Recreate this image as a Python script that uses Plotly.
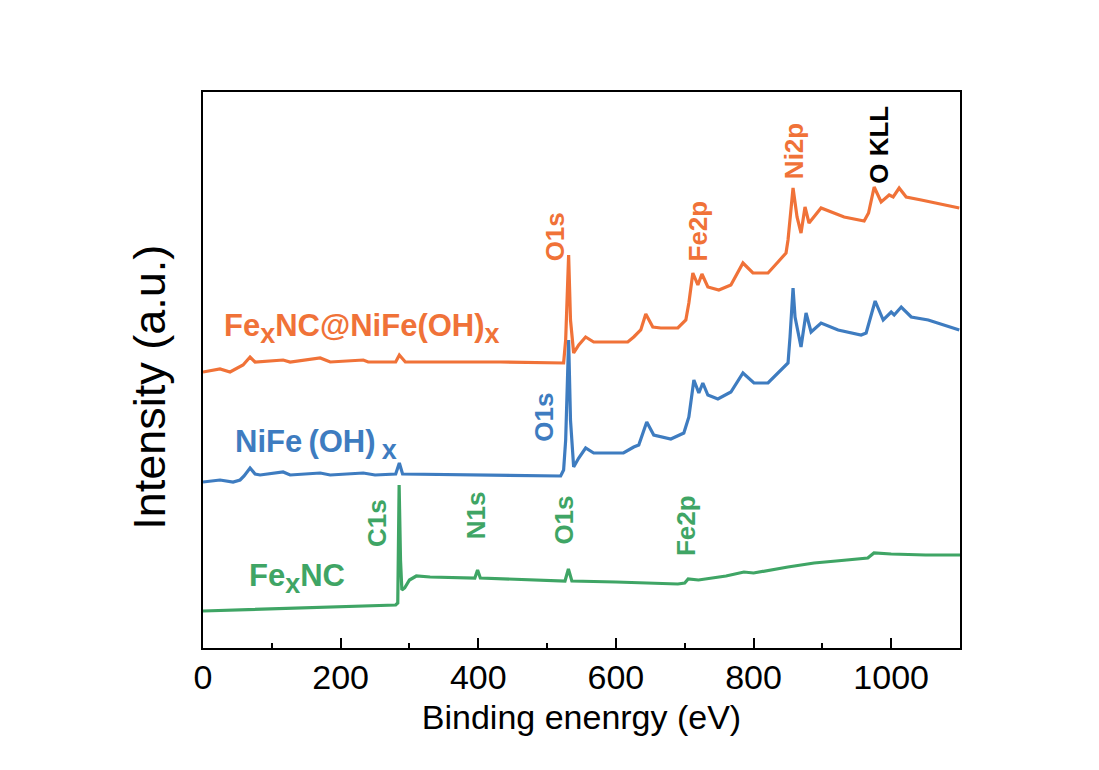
import plotly.graph_objects as go

# ---------------- data (binding energy in eV, intensity in a.u.) ----------------
energy_fenc_nife = [0, 24.7, 39.3, 58.2, 68.4, 75.7, 116.4, 126.6, 170.3, 184.9, 232.9, 240, 280,
                    285.3, 294, 432.3, 524, 527, 531.3, 534, 538.6, 546, 556, 567.7, 617.2, 625.9,
                    636.1, 643.4, 653.6, 665.2, 690, 701.6, 706, 711.8, 719.1, 725, 733.6, 749.6,
                    767.1, 784.6, 799.1, 821, 835.5, 847.2, 850.1, 857.4, 863.2, 869, 874.8, 880.6,
                    898.1, 931.6, 960.7, 967.1, 975.3, 985.4, 997.1, 1002.9, 1011.6, 1021.8, 1043.7, 1099]
intensity_fenc_nife = [276, 279, 276, 283, 291, 286, 288, 286, 290, 286, 288, 286, 286,
                       293, 286, 286, 285, 308, 393, 328, 295, 303, 311, 306, 306, 311,
                       318, 334, 321, 320, 320, 328, 345, 375, 363, 374, 361, 358,
                       363, 385, 375, 375, 386, 395, 408, 460, 431, 415, 441, 425,
                       440, 431, 427, 435, 461, 446, 453, 451, 460, 451, 448, 440]

energy_nife = [0, 24.7, 43.7, 53.9, 59.7, 68.4, 75.7, 83, 116.4, 126.6, 170.3, 184.9, 232.9, 250,
               280, 285.3, 290, 461, 519.7, 524, 527, 531.3, 534, 538.6, 546, 556, 567.7, 611,
               625.9, 633.2, 644.8, 655, 679.8, 698.7, 706, 713.3, 720.5, 726.3, 733.6, 748.2,
               767.1, 784.6, 800.6, 821, 835.5, 850.1, 853, 857.4, 860.3, 869, 876.3, 883.6,
               898.1, 922.9, 956.3, 963.6, 976.7, 988.4, 1000, 1004.4, 1014.6, 1029.1, 1053.9, 1099]
intensity_nife = [166, 168, 166, 168, 172, 180, 174, 173, 176, 173, 175, 173, 175, 173,
                  174, 185, 174, 173, 172, 178, 208, 308, 228, 181, 190, 200, 195, 195,
                  201, 203, 226, 213, 209, 215, 231, 268, 255, 265, 253, 249,
                  256, 275, 265, 265, 275, 285, 311, 360, 331, 301, 335, 316,
                  325, 318, 313, 315, 347, 328, 336, 333, 341, 331, 328, 318]

energy_fenc = [0, 100, 200, 280, 283, 285, 287, 289, 293, 300, 310, 330, 395, 399, 403, 450,
               526, 531, 536, 600, 690, 700, 705, 720, 760, 786, 800, 850, 888, 920, 966, 975,
               1000, 1050, 1100]
intensity_fenc = [37, 39, 41, 43, 45, 163, 88, 58, 60, 68, 72, 71, 70, 78, 70, 69,
                  67, 79, 67, 66, 64, 65, 69, 68, 72, 76, 75, 81, 85, 87, 90, 95,
                  94, 93, 93]

x_ticks = [0, 200, 400, 600, 800, 1000]

ORANGE = "#F07238"
BLUE = "#3E7CC0"
GREEN = "#3FA565"
FONT = "Liberation Sans, Arial, Helvetica, sans-serif"

SUBX = "<sub><span style='font-size:27px'>x</span></sub>"

# sample names (text, x, y, colour)
sample_labels = [
    ("Fe" + SUBX + "NC@NiFe(OH)" + SUBX, 27, 320, ORANGE),
    ("NiFe\u2009(OH)\u2009" + SUBX, 43, 204, BLUE),
    ("Fe" + SUBX + "NC", 64, 70, GREEN),
]
# peak labels (text, x, y, colour)
peak_labels = [
    ("O1s", 512, 411, ORANGE),
    ("Fe2p", 720, 417, ORANGE),
    ("Ni2p", 859, 497, ORANGE),
    ("O KLL", 982, 503, "#000000"),
    ("O1s", 495, 231, BLUE),
    ("C1s", 253, 125, GREEN),
    ("N1s", 397, 133, GREEN),
    ("O1s", 524, 128, GREEN),
    ("Fe2p", 702, 122, GREEN),
]

fig = go.Figure()
for xs, ys, col, name in [
    (energy_fenc, intensity_fenc, GREEN, "FexNC"),
    (energy_nife, intensity_nife, BLUE, "NiFe(OH)x"),
    (energy_fenc_nife, intensity_fenc_nife, ORANGE, "FexNC@NiFe(OH)x"),
]:
    fig.add_trace(go.Scatter(x=xs, y=ys, mode="lines", name=name,
                             line=dict(color=col, width=3.2), showlegend=False))

annotations = []
for text, x, y, col in sample_labels:
    annotations.append(dict(x=x, y=y, xref="x", yref="y", text=text, showarrow=False,
                            xanchor="left", yanchor="middle",
                            font=dict(family=FONT, size=31, color=col, weight="bold")))
for text, x, y, col in peak_labels:
    annotations.append(dict(x=x, y=y, xref="x", yref="y", text=text, showarrow=False,
                            textangle=-90, xanchor="center", yanchor="middle",
                            font=dict(family=FONT, size=26, color=col, weight="bold")))
# y-axis title (placed slightly below the plot's vertical centre, as in the reference)
annotations.append(dict(x=-0.07, y=0.468, xref="paper", yref="paper", text="Intensity (a.u.)",
                        showarrow=False, textangle=-90, xanchor="center", yanchor="middle",
                        font=dict(family=FONT, size=45, color="black")))

fig.update_layout(
    width=1099, height=770,
    margin=dict(l=203, r=139, t=92, b=122),
    paper_bgcolor="white", plot_bgcolor="white",
    font=dict(family=FONT, color="black"),
    annotations=annotations,
    xaxis=dict(range=[0, 1100], tickvals=x_ticks, ticks="inside", ticklen=10, tickwidth=2,
               tickcolor="black", showline=True, linecolor="black", linewidth=2, mirror=True,
               showgrid=False, zeroline=False, tickfont=dict(size=34, family=FONT),
               ticklabelstandoff=-2,
               minor=dict(tickvals=[100, 300, 500, 700, 900, 1100], ticks="inside", ticklen=5,
                          tickwidth=2, tickcolor="black"),
               title=dict(text="Binding enenrgy (eV)", font=dict(size=34, family=FONT), standoff=10)),
    yaxis=dict(range=[0, 556], showticklabels=False, ticks="", showline=True, linecolor="black",
               linewidth=2, mirror=True, showgrid=False, zeroline=False),
)

fig.write_html("out.html")
